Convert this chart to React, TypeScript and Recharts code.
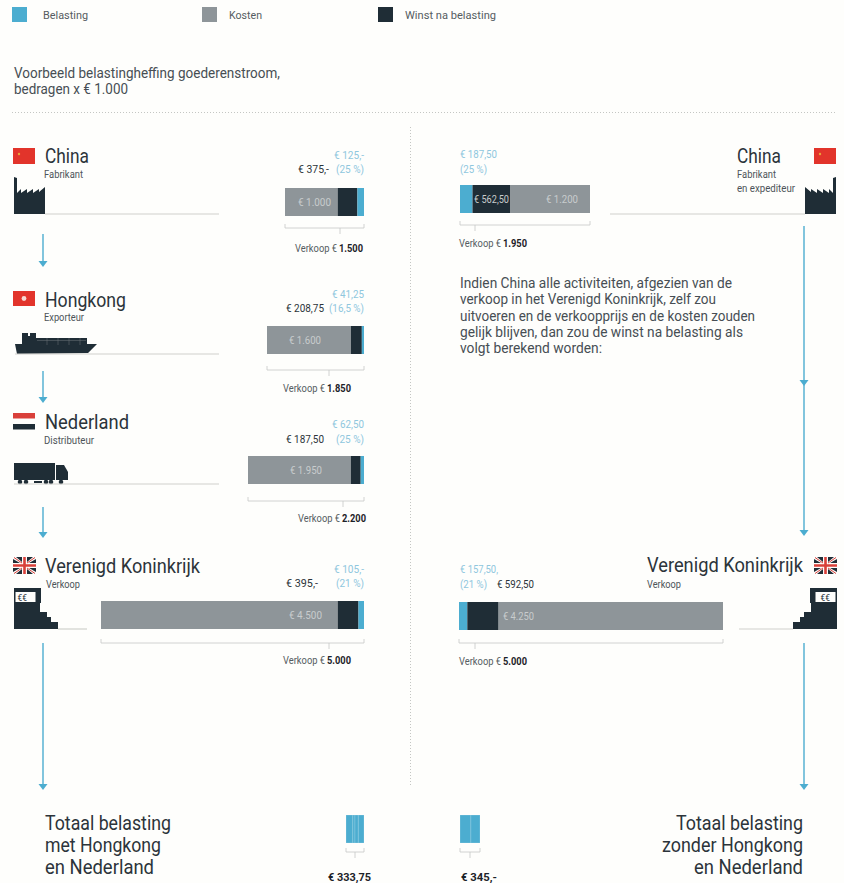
import React from "react";
import { BarChart, Bar, XAxis, YAxis } from "recharts";

const BLUE = "#4cadd0";
const GRAY = "#8e9599";
const DARK = "#1f2d36";
const LINE = "#cfd0cc";
const INK = "#2c343a";
const SOFT = "#8fc7de";
const FONT = "Roboto, 'Liberation Sans', sans-serif";

const legendLabels = ["Belasting", "Kosten", "Winst na belasting"];

const kostenLeft = [1000, 1600, 1950, 4500];
const winstLeft = [375, 208.75, 187.5, 395];
const belastingLeft = [125, 41.25, 62.5, 105];
const verkoopLeft = [1500, 1850, 2200, 5000];

const kostenRight = [1200, 4250];
const winstRight = [562.5, 592.5];
const belastingRight = [187.5, 157.5];
const verkoopRight = [1950, 5000];

const totaalLeft = 333.75;
const totaalRight = 345;

function T({ x, y, w, s = 10, c = INK, b = false, children }: any) {
  return (
    <text x={x} y={y} fontSize={s} fill={c} fontFamily={FONT} fontWeight={b ? 700 : 400} textLength={w} lengthAdjust="spacingAndGlyphs">
      {children}
    </text>
  );
}

function Arrow({ x, y1, y2 }: any) {
  return (
    <g>
      <line x1={x} x2={x} y1={y1} y2={y2 - 5} stroke={BLUE} strokeWidth={1.4} />
      <path d={`M${x - 4.5} ${y2 - 6} L${x + 4.5} ${y2 - 6} L${x} ${y2} Z`} fill={BLUE} />
    </g>
  );
}

function Bracket({ x1, x2, y, tick }: any) {
  return (
    <path d={`M${x1} ${y - 4} V${y} H${x2} V${y - 4} M${tick} ${y} V${y + 6}`} fill="none" stroke="#c6c8c6" strokeWidth={0.8} />
  );
}

function Verkoop({ x, y, amount }: any) {
  return (
    <g>
      <T x={x} y={y} w={42} s={10} c="#565d62">Verkoop €</T>
      <T x={x + 44} y={y} w={24} s={10} c="#1c2228" b>{amount}</T>
    </g>
  );
}

function Factory({ mirror = false }: any) {
  return (
    <path
      transform={mirror ? "translate(850,0) scale(-1,1)" : undefined}
      d="M14 177 L17 178 V193 L21 189 V193 L27 189 V193 L33 189 V193 L39 189 V192 L45 187 V214 H14 Z"
      fill={DARK}
    />
  );
}

function Register({ mirror = false }: any) {
  return (
    <g transform={mirror ? "translate(851,0) scale(-1,1)" : undefined}>
      <path d="M14 588 H41 V603 H40 V612 H47 V617 H51 V622 H58 V629 H14 Z" fill={DARK} />
      <rect x={15.5} y={592} width={20} height={10} fill="#fdfdfb" />
      <text x={mirror ? -30.5 : 17.5} y={600.5} fontSize={8.5} fill={DARK} fontFamily={FONT} transform={mirror ? "scale(-1,1)" : undefined}>€€</text>
    </g>
  );
}

function ChinaFlag({ x }: any) {
  return (
    <g>
      <rect x={x} y={148} width={22} height={16} fill="#e2342b" />
      <circle cx={x + 6} cy={154} r={1.2} fill="#e9a33a" />
    </g>
  );
}

function UkFlag({ x }: any) {
  return (
    <g>
      <rect x={x} y={557} width={23} height={17} fill="#fdfdfb" />
      <path d={`M${x} 559 L${x + 7} 563 H${x} Z M${x + 3} 557 H${x + 9} V562 Z M${x + 23} 559 L${x + 16} 563 H${x + 23} Z M${x + 20} 557 H${x + 14} V562 Z M${x} 572 L${x + 7} 568 H${x} Z M${x + 3} 574 H${x + 9} V569 Z M${x + 23} 572 L${x + 16} 568 H${x + 23} Z M${x + 20} 574 H${x + 14} V569 Z`} fill={DARK} />
      <path d={`M${x} 565.5 H${x + 23} M${x + 11.5} 557 V574`} stroke="#d9403a" strokeWidth={2.6} />
      <path d={`M${x + 1} 557.5 L${x + 9} 563 M${x + 22} 557.5 L${x + 14} 563 M${x + 1} 573.5 L${x + 9} 568 M${x + 22} 573.5 L${x + 14} 568`} stroke="#d9403a" strokeWidth={1} />
    </g>
  );
}

function Decor() {
  const dash = { stroke: "#c4c6c3", strokeWidth: 1, strokeDasharray: "1 2" };
  return (
    <svg width={844} height={883} style={{ position: "absolute", left: 0, top: 0 }}>
      {/* legend */}
      <rect x={12} y={7} width={15} height={15} fill={BLUE} />
      <rect x={202} y={7} width={15} height={15} fill={GRAY} />
      <rect x={378} y={7} width={15} height={15} fill={DARK} />
      <T x={43} y={19} w={45} s={11.5} c="#555c61">{legendLabels[0]}</T>
      <T x={229} y={19} w={33} s={11.5} c="#555c61">{legendLabels[1]}</T>
      <T x={405} y={19} w={91} s={11.5} c="#555c61">{legendLabels[2]}</T>

      <T x={14} y={77.5} w={266} s={14.5} c="#474e54">Voorbeeld belastingheffing goederenstroom,</T>
      <T x={14} y={93.5} w={114} s={14.5} c="#474e54">bedragen x € 1.000</T>
      <line x1={12} x2={836} y1={112.5} y2={112.5} {...dash} />
      <line x1={410.5} x2={410.5} y1={127} y2={785} {...dash} />

      {/* China left */}
      <ChinaFlag x={13} />
      <T x={45} y={163} w={44} s={19.5}>China</T>
      <T x={44} y={178} w={39} c="#4d5459">Fabrikant</T>
      <Factory />
      <line x1={45} x2={219} y1={214} y2={214} stroke={LINE} strokeWidth={1.2} />
      <T x={334} y={159} w={30} c={SOFT}>€ 125,-</T>
      <T x={298} y={173} w={31}>€ 375,-</T>
      <T x={336} y={173} w={28} c={SOFT}>(25 %)</T>
      <Bracket x1={285} x2={364} y={228} tick={340} />
      <Verkoop x={295} y={252} amount="1.500" />
      <Arrow x={43} y1={234} y2={267} />

      {/* Hongkong */}
      <rect x={13} y={291} width={22} height={15} fill="#e2342b" />
      <circle cx={24} cy={298.5} r={2.4} fill="#f6d9d2" />
      <T x={45} y={307} w={81} s={19.5}>Hongkong</T>
      <T x={44} y={321} w={40} c="#4d5459">Exporteur</T>
      <path d="M15 344 H97 L88 353 L17 354 Z M22 333 H28 V336 H30 V333 H36 V338 H87 V345 H22 Z" fill={DARK} />
      <path d="M37 340.5 H86 M47 338 V345 M58 338 V345 M69 338 V345 M80 338 V345" stroke="#6d7478" strokeWidth={0.5} fill="none" />
      <line x1={15} x2={219} y1={354} y2={354} stroke={LINE} strokeWidth={1.2} />
      <T x={332} y={298} w={32} c={SOFT}>€ 41,25</T>
      <T x={286} y={312} w={38}>€ 208,75</T>
      <T x={329} y={312} w={35} c={SOFT}>(16,5 %)</T>
      <Bracket x1={267} x2={364} y={370} tick={329} />
      <Verkoop x={283} y={392} amount="1.850" />
      <Arrow x={43} y1={371} y2={403} />

      {/* Nederland */}
      <rect x={13} y={413} width={22} height={5.5} fill="#d9403a" />
      <rect x={13} y={424} width={22} height={5.5} fill={DARK} />
      <T x={45} y={429} w={84} s={19.5}>Nederland</T>
      <T x={44} y={444} w={50} c="#4d5459">Distributeur</T>
      <rect x={14} y={463} width={41} height={17} fill={DARK} />
      <path d="M56 465 H64 L68 472 V480 H56 Z" fill={DARK} />
      <rect x={34} y={481} width={8} height={2} fill={DARK} />
      {[20, 26, 46, 51, 61].map((cx) => (
        <circle key={cx} cx={cx} cy={482} r={2.3} fill={DARK} />
      ))}
      <line x1={14} x2={219} y1={484} y2={484} stroke={LINE} strokeWidth={1.2} />
      <T x={332} y={428} w={32} c={SOFT}>€ 62,50</T>
      <T x={286} y={443} w={38}>€ 187,50</T>
      <T x={336} y={443} w={28} c={SOFT}>(25 %)</T>
      <Bracket x1={248} x2={364} y={501} tick={343} />
      <Verkoop x={298} y={522} amount="2.200" />
      <Arrow x={43} y1={507} y2={538} />

      {/* UK left */}
      <UkFlag x={13} />
      <T x={45} y={573} w={155} s={19.5}>Verenigd Koninkrijk</T>
      <T x={46} y={588} w={34} c="#4d5459">Verkoop</T>
      <Register />
      <line x1={58} x2={87} y1={629} y2={629} stroke={LINE} strokeWidth={1.2} />
      <T x={334} y={573} w={30} c={SOFT}>€ 105,-</T>
      <T x={286} y={587} w={32}>€ 395,-</T>
      <T x={336} y={587} w={28} c={SOFT}>(21 %)</T>
      <Bracket x1={101} x2={364} y={643} tick={329} />
      <Verkoop x={283} y={664} amount="5.000" />
      <Arrow x={43} y1={643} y2={790} />

      {/* Totals */}
      <T x={45} y={830} w={126} s={20}>Totaal belasting</T>
      <T x={45} y={852} w={116} s={20}>met Hongkong</T>
      <T x={45} y={874} w={109} s={20}>en Nederland</T>
      <T x={676} y={830} w={127} s={20}>Totaal belasting</T>
      <T x={662} y={852} w={141} s={20}>zonder Hongkong</T>
      <T x={694} y={874} w={109} s={20}>en Nederland</T>
      <Bracket x1={346} x2={364} y={852} tick={355} />
      <Bracket x1={460} x2={480} y={852} tick={470} />
      <T x={328} y={881} w={43} s={11} c="#1c2228" b>€ 333,75</T>
      <T x={461} y={881} w={36} s={11} c="#1c2228" b>€ 345,-</T>

      {/* China right */}
      <ChinaFlag x={814} />
      <T x={737} y={163} w={44} s={19.5}>China</T>
      <T x={737} y={178} w={39} c="#4d5459">Fabrikant</T>
      <T x={737} y={192} w={58} c="#4d5459">en expediteur</T>
      <Factory mirror />
      <line x1={610} x2={805} y1={214} y2={214} stroke={LINE} strokeWidth={1.2} />
      <T x={460} y={158} w={37} c={SOFT}>€ 187,50</T>
      <T x={460} y={173} w={27} c={SOFT}>(25 %)</T>
      <Bracket x1={460} x2={590} y={225} tick={475} />
      <Verkoop x={459} y={247} amount="1.950" />

      <T x={460} y={288} w={272} s={14.5} c="#474e54">Indien China alle activiteiten, afgezien van de</T>
      <T x={460} y={304} w={256} s={14.5} c="#474e54">verkoop in het Verenigd Koninkrijk, zelf zou</T>
      <T x={460} y={320.5} w={295} s={14.5} c="#474e54">uitvoeren en de verkoopprijs en de kosten zouden</T>
      <T x={460} y={337} w={283} s={14.5} c="#474e54">gelijk blijven, dan zou de winst na belasting als</T>
      <T x={460} y={353} w={142} s={14.5} c="#474e54">volgt berekend worden:</T>

      <Arrow x={804} y1={226} y2={386} />
      <Arrow x={804} y1={380} y2={536} />

      {/* UK right */}
      <UkFlag x={814} />
      <T x={647} y={572} w={156} s={19.5}>Verenigd Koninkrijk</T>
      <T x={647} y={588} w={34} c="#4d5459">Verkoop</T>
      <Register mirror />
      <line x1={739} x2={793} y1={629} y2={629} stroke={LINE} strokeWidth={1.2} />
      <T x={460} y={573} w={38} c={SOFT}>€ 157,50,</T>
      <T x={460} y={588} w={27} c={SOFT}>(21 %)</T>
      <T x={497} y={588} w={37}>€ 592,50</T>
      <Bracket x1={459} x2={723} y={643} tick={475} />
      <Verkoop x={459} y={665} amount="5.000" />
      <Arrow x={804} y1={643} y2={790} />
    </svg>
  );
}

function Stack({ x, y, w, h, row, keys, colors, stroke }: any) {
  const data = [row];
  const total = keys.reduce((sum: number, k: string) => sum + row[k], 0);
  return (
    <div style={{ position: "absolute", left: x, top: y }}>
      <BarChart width={w} height={h} data={data} layout="vertical" margin={{ top: 0, right: 0, bottom: 0, left: 0 }} barCategoryGap={0}>
        <XAxis type="number" domain={[0, total]} hide />
        <YAxis type="category" dataKey="name" hide />
        {keys.map((k: string, i: number) => (
          <Bar key={k} dataKey={k} stackId="s" fill={colors[i]} stroke={stroke} strokeWidth={stroke ? 0.5 : 0} isAnimationActive={false} />
        ))}
      </BarChart>
    </div>
  );
}

const BAR_LABEL = "#c8cccd";

function BarLabel({ x, y, w, children }: any) {
  return (
    <div style={{ position: "absolute", left: 0, top: 0, pointerEvents: "none" }}>
      <svg width={844} height={883} style={{ display: "block" }}>
        <T x={x} y={y} w={w} s={10.5} c={BAR_LABEL}>{children}</T>
      </svg>
    </div>
  );
}

const leftRows = [
  { x: 285, y: 188 },
  { x: 267, y: 326 },
  { x: 248, y: 456 },
  { x: 101, y: 601 },
];
const leftLabels = [
  { x: 298, y: 206, w: 33, t: "€ 1.000" },
  { x: 289, y: 344, w: 32, t: "€ 1.600" },
  { x: 290, y: 474, w: 32, t: "€ 1.950" },
  { x: 289, y: 619, w: 33, t: "€ 4.500" },
];

export default function App() {
  return (
    <div style={{ position: "absolute", left: 0, top: 0, width: 844, height: 883, background: "#fefefc", overflow: "hidden" }}>
      <Decor />
      {leftRows.map((r, i) => (
        <Stack
          key={i}
          x={r.x}
          y={r.y}
          w={364 - r.x}
          h={28}
          row={{ name: "row", kosten: kostenLeft[i], winst: winstLeft[i], belasting: belastingLeft[i], verkoop: verkoopLeft[i] }}
          keys={["kosten", "winst", "belasting"]}
          colors={[GRAY, DARK, BLUE]}
        />
      ))}
      <Stack
        x={460}
        y={185}
        w={130}
        h={28}
        row={{ name: "row", belasting: belastingRight[0], winst: winstRight[0], kosten: kostenRight[0], verkoop: verkoopRight[0] }}
        keys={["belasting", "winst", "kosten"]}
        colors={[BLUE, DARK, GRAY]}
      />
      <Stack
        x={459}
        y={602}
        w={264}
        h={28}
        row={{ name: "row", belasting: belastingRight[1], winst: winstRight[1], kosten: kostenRight[1], verkoop: verkoopRight[1] }}
        keys={["belasting", "winst", "kosten"]}
        colors={[BLUE, DARK, GRAY]}
      />
      <Stack
        x={346}
        y={815}
        w={18}
        h={28}
        row={{ name: "row", china: belastingLeft[0], hongkong: belastingLeft[1], nederland: belastingLeft[2], vk: belastingLeft[3], totaal: totaalLeft }}
        keys={["china", "hongkong", "nederland", "vk"]}
        colors={[BLUE, BLUE, BLUE, BLUE]}
        stroke="#8ccbe0"
      />
      <Stack
        x={460}
        y={815}
        w={20}
        h={28}
        row={{ name: "row", china: belastingRight[0], vk: belastingRight[1], totaal: totaalRight }}
        keys={["china", "vk"]}
        colors={[BLUE, BLUE]}
        stroke="#8ccbe0"
      />
      {leftLabels.map((l) => (
        <BarLabel key={l.t} x={l.x} y={l.y} w={l.w}>{l.t}</BarLabel>
      ))}
      <BarLabel x={474} y={203} w={35}>€ 562,50</BarLabel>
      <BarLabel x={546} y={203} w={32}>€ 1.200</BarLabel>
      <BarLabel x={503} y={620} w={31}>€ 4.250</BarLabel>
    </div>
  );
}
